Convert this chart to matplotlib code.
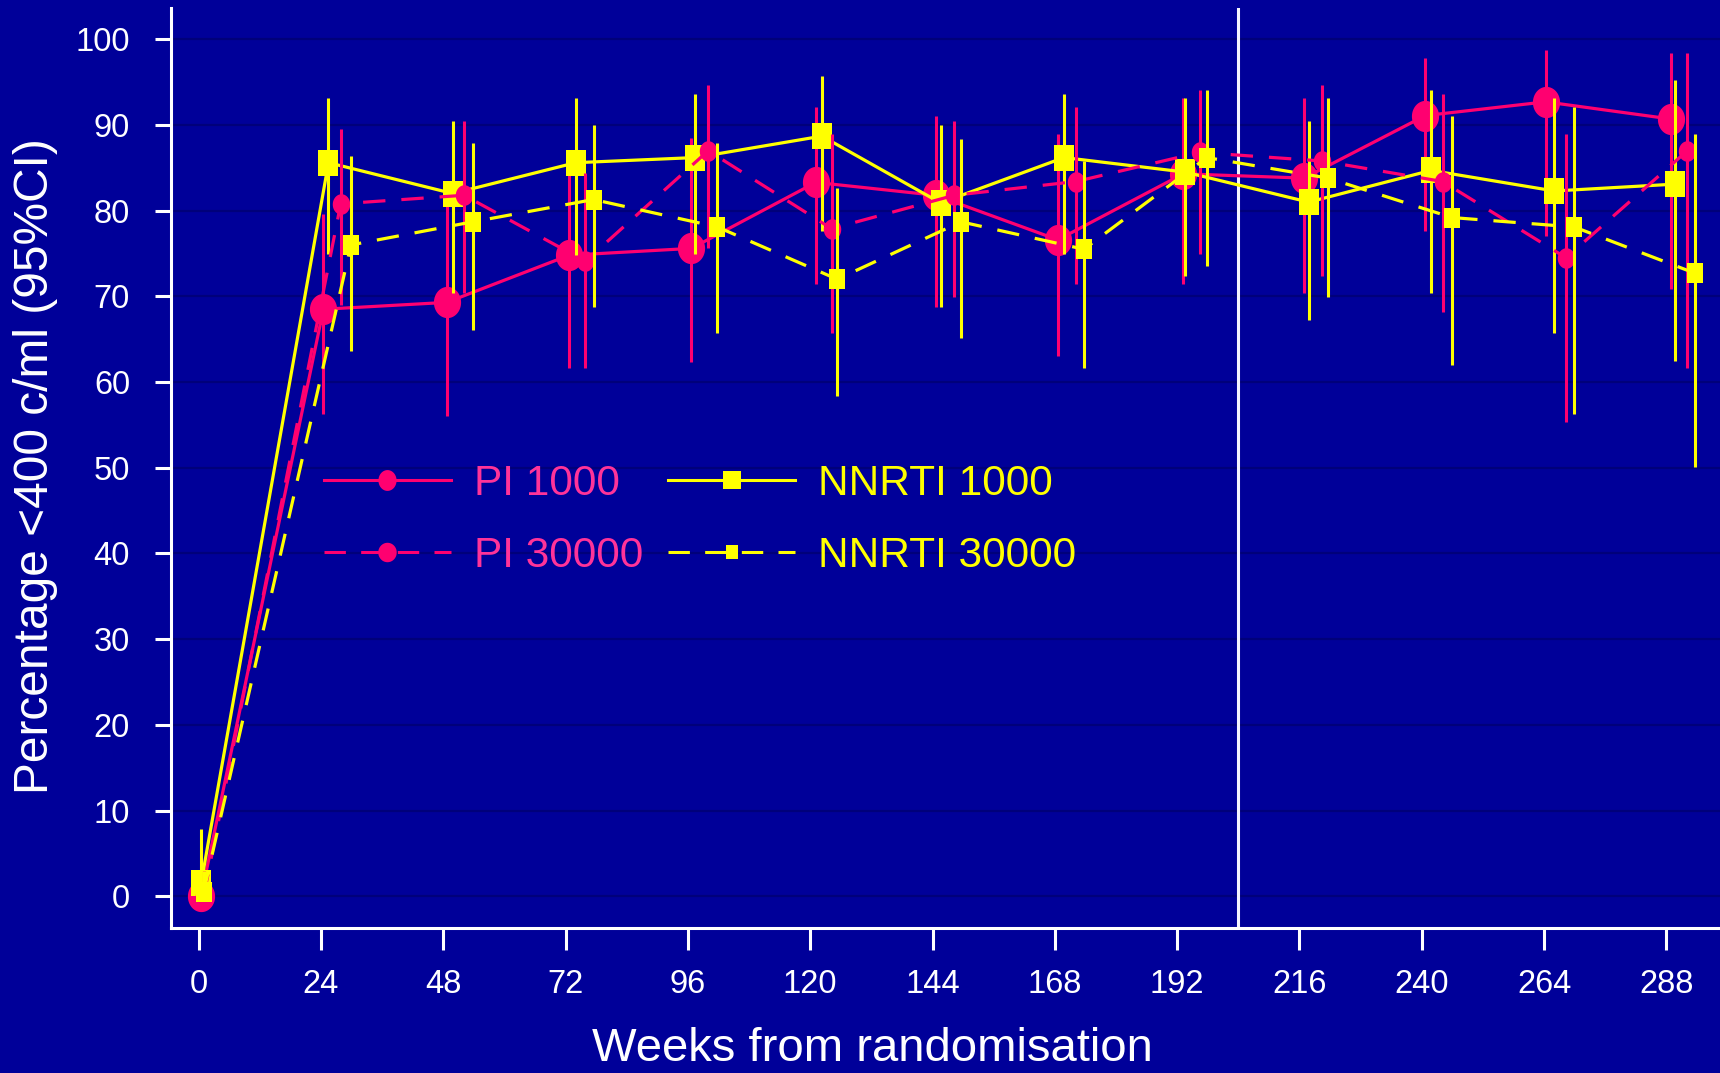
import numpy as np
import matplotlib
matplotlib.use('Agg')
import matplotlib.pyplot as plt
from matplotlib.path import Path
from matplotlib.lines import Line2D

plt.rcParams['font.family'] = ['Liberation Sans', 'DejaVu Sans']

# data (week of visit, % <400 c/ml, 95% CI)
pi1000_wk = [0.5, 24.5, 48.7, 72.7, 96.7, 121.1, 144.6, 168.6, 193.2, 216.9, 240.7, 264.3, 288.8]
pi1000_val = [0, 68.5, 69.3, 74.8, 75.6, 83.3, 81.8, 76.6, 84.3, 83.8, 91.1, 92.7, 90.7]
pi1000_lo = [0, 56.3, 56.0, 61.6, 62.4, 71.4, 68.8, 63.1, 71.4, 70.4, 77.6, 77.1, 70.9]
pi1000_hi = [2.5, 79.6, 82.0, 84.5, 88.5, 92.1, 91.0, 89.0, 93.1, 93.1, 97.8, 98.8, 98.4]

nn1000_wk = [0.5, 25.5, 49.9, 74.0, 97.5, 122.3, 145.6, 169.8, 193.6, 217.8, 241.8, 266.0, 289.7]
nn1000_val = [1.5, 85.6, 82.0, 85.6, 86.2, 88.7, 80.9, 86.2, 84.5, 81.0, 84.7, 82.3, 83.1]
nn1000_lo = [0, 75.0, 70.4, 74.8, 75.0, 77.6, 68.8, 75.0, 72.4, 67.2, 70.4, 65.7, 62.5]
nn1000_hi = [7.8, 93.1, 90.5, 93.1, 93.6, 95.7, 90.0, 93.6, 93.1, 90.5, 94.1, 93.1, 95.2]

pi30000_wk = [1.0, 27.9, 52.1, 75.9, 100.0, 124.2, 148.3, 172.1, 196.4, 220.4, 244.1, 268.3, 292.1]
pi30000_val = [0, 80.8, 81.8, 74.1, 87.0, 77.9, 81.8, 83.4, 86.8, 85.8, 83.4, 74.5, 87.0]
pi30000_lo = [0, 69.0, 70.4, 61.6, 75.6, 65.7, 69.9, 71.4, 75.0, 72.4, 68.2, 55.3, 61.6]
pi30000_hi = [3.0, 89.5, 90.5, 84.4, 94.7, 89.0, 90.5, 92.1, 94.1, 94.7, 93.6, 89.0, 98.4]

nn30000_wk = [1.0, 29.9, 53.8, 77.5, 101.8, 125.3, 149.6, 173.7, 197.8, 221.6, 245.9, 269.9, 293.6]
nn30000_val = [0.5, 76.0, 78.7, 81.3, 78.1, 72.0, 78.7, 75.5, 86.2, 83.8, 79.2, 78.1, 72.7]
nn30000_lo = [0, 63.6, 66.1, 68.8, 65.7, 58.4, 65.2, 61.6, 73.5, 69.9, 62.0, 56.3, 50.1]
nn30000_hi = [3.0, 86.4, 87.9, 90.0, 87.9, 82.7, 88.4, 85.8, 94.1, 93.1, 91.0, 92.1, 89.0]

labels = ['PI 1000', 'PI 30000', 'NNRTI 1000', 'NNRTI 30000']
xticks = list(range(0, 289, 24))
yticks = list(range(0, 101, 10))
cutoff_week = 204

bg = '#000099'
pink = '#ff0070'
pink_txt = '#ff3399'
yellow = '#ffff00'
dash = (0, (7, 5))


def ellipse(r):
    t = np.linspace(0, 2 * np.pi, 64)
    return Path(np.column_stack([r * np.cos(t), np.sin(t)]), closed=True)


def box(r):
    return Path([[-r, -1], [r, -1], [r, 1], [-r, 1], [-r, -1]], closed=True)


fig = plt.figure(figsize=(17.2, 10.73), dpi=100, facecolor=bg)
ax = fig.add_axes([171 / 1720, 145 / 1073, 1549 / 1720, 920 / 1073], facecolor=bg)

# drawing order: PI 1000, NNRTI 1000, PI 30000, NNRTI 30000
series = [
    (pi1000_wk, pi1000_val, pi1000_lo, pi1000_hi, pink, '-', ellipse(0.87), 22.5),
    (nn1000_wk, nn1000_val, nn1000_lo, nn1000_hi, yellow, '-', box(0.8), 18.5),
    (pi30000_wk, pi30000_val, pi30000_lo, pi30000_hi, pink, dash, ellipse(0.85), 14.8),
    (nn30000_wk, nn30000_val, nn30000_lo, nn30000_hi, yellow, dash, box(0.8), 14.8),
]
for i, (wk, val, lo, hi, col, ls, mk, ms) in enumerate(series):
    val = np.array(val)
    err = [val - np.array(lo), np.array(hi) - val]
    ax.errorbar(wk, val, yerr=err, fmt='none', ecolor=col, elinewidth=2.2, capsize=0, zorder=3 + i)
    ax.plot(wk, val, color=col, ls=ls, lw=2.3, marker=mk, ms=ms, mew=0, zorder=3 + i)

ax.axvline(cutoff_week, color='#f4f4ff', lw=2.2, zorder=2)

ax.set_xlim(-5.4, 298.5)
ax.set_ylim(-3.7, 103.65)
ax.set_xticks(xticks)
ax.set_yticks(yticks)
ax.yaxis.grid(True, color='#00007a', lw=1.6)
ax.set_axisbelow(True)
for s in ['top', 'right']:
    ax.spines[s].set_visible(False)
for s in ['left', 'bottom']:
    ax.spines[s].set_color('white')
    ax.spines[s].set_linewidth(2.2)
ax.tick_params(axis='x', colors='white', length=16, width=2.2, pad=13.5, labelsize=23.5)
ax.tick_params(axis='y', colors='white', length=11.5, width=2.2, pad=18, labelsize=23.5)

ax.set_xlabel('Weeks from randomisation', fontsize=34, color='white', va='baseline')
ax.xaxis.set_label_coords(872 / 1720, 12 / 1073, transform=fig.transFigure)
ax.set_ylabel('Percentage <400 c/ml (95%CI)', fontsize=34.5, color='white', va='center')
ax.yaxis.set_label_coords(36 / 1720, 1 - 466 / 1073, transform=fig.transFigure)

handles = [
    Line2D([], [], color=pink, ls='-', lw=2.2, marker=ellipse(0.87), ms=15, mew=0),
    Line2D([], [], color=pink, ls=dash, lw=2.2, marker=ellipse(0.95), ms=14, mew=0),
    Line2D([], [], color=yellow, ls='-', lw=2.2, marker=box(1.0), ms=13, mew=0),
    Line2D([], [], color=yellow, ls=dash, lw=2.2, marker=box(0.8), ms=10.5, mew=0),
]
leg = ax.legend(handles, labels, ncol=2, fontsize=30.5, frameon=False,
                handlelength=3.0, handletextpad=0.54, columnspacing=0.6,
                labelspacing=0.76, borderpad=0, borderaxespad=0,
                loc='center left', bbox_to_anchor=(323.6 / 1720, 1 - 520 / 1073),
                bbox_transform=fig.transFigure)
for t, c in zip(leg.get_texts(), [pink_txt, pink_txt, yellow, yellow]):
    t.set_color(c)

fig.savefig('out.png', dpi=100, facecolor=bg)
